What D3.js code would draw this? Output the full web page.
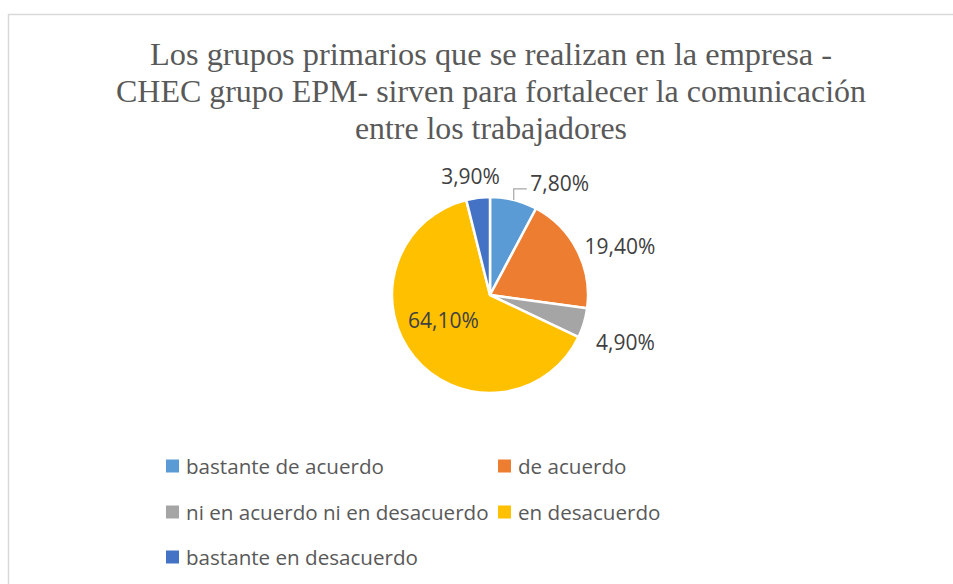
<!DOCTYPE html>
<html><head><meta charset="utf-8">
<script src="https://cdn.jsdelivr.net/npm/d3@7"></script>
<style>html,body{margin:0;padding:0;background:#fff;}</style>
</head><body>
<svg id="c" width="953" height="584"></svg>
<script>
const titleLines = ["Los grupos primarios que se realizan en la empresa -",
  "CHEC grupo EPM- sirven para fortalecer la comunicación",
  "entre los trabajadores"];
const categories = ["bastante de acuerdo","de acuerdo","ni en acuerdo ni en desacuerdo","en desacuerdo","bastante en desacuerdo"];
const values = [7.8, 19.4, 4.9, 64.1, 3.9];
const valueLabels = ["7,80%","19,40%","4,90%","64,10%","3,90%"];
const colors = ["#5B9BD5","#ED7D31","#A5A5A5","#FFC000","#4472C4"];

// style / layout
const labelNudge = [[43,-5],[32,1],[30,16],[-1,-12],[-6,-10]];
const labelInside = [false,false,false,true,false];
const titleWidths = [682, 750, 272];

const svg = d3.select("#c");
svg.append("rect").attr("x",8.5).attr("y",14.5).attr("width",1000).attr("height",700)
  .attr("fill","#fff").attr("stroke","#d9d9d9").attr("stroke-width",1.5);

// Title
titleLines.forEach((t,i)=>{
  svg.append("text").attr("x",491).attr("y",65+i*37).attr("text-anchor","middle")
    .attr("font-family","'Liberation Serif','Times New Roman',serif").attr("font-size",32)
    .attr("fill","#595959").attr("textLength",titleWidths[i]).attr("lengthAdjust","spacingAndGlyphs")
    .text(t);
});

const cx=490, cy=295, R=98;
const pie = d3.pie().sort(null).value(d=>d)(values);
const arc = d3.arc().innerRadius(0).outerRadius(R);
const g = svg.append("g").attr("transform",`translate(${cx},${cy})`);
g.selectAll("path").data(pie).join("path").attr("d",arc)
  .attr("fill",(d,i)=>colors[i]).attr("stroke","#fff").attr("stroke-width",2.5).attr("stroke-linejoin","round");

const outArc = d3.arc().innerRadius(R+12).outerRadius(R+12);
const inArc = d3.arc().innerRadius(R*0.6).outerRadius(R*0.6);
pie.forEach((d,i)=>{
  const c = (labelInside[i]?inArc:outArc).centroid(d);
  g.append("text").attr("x",c[0]+labelNudge[i][0]).attr("y",c[1]+labelNudge[i][1])
    .attr("text-anchor","middle").attr("dominant-baseline","central")
    .attr("font-family","'Open Sans',sans-serif").attr("font-size",21).attr("fill","#404040")
    .text(valueLabels[i]);
});
// leader line for first slice
{
  const d = pie[0];
  const m = (d.startAngle+d.endAngle)/2;
  const x0 = R*Math.sin(m), y0 = -R*Math.cos(m);
  const yl = y0-11;
  g.append("path").attr("d",`M${x0},${y0}V${yl}H${x0+13}`)
    .attr("fill","none").attr("stroke","#a6a6a6").attr("stroke-width",1.2);
}

// Legend
const legX = [166, 498], legY = [466, 512, 557];
categories.forEach((c,i)=>{
  const col=i%2, row=Math.floor(i/2);
  const lg = svg.append("g").attr("transform",`translate(${legX[col]},${legY[row]})`);
  lg.append("rect").attr("x",0).attr("y",-6.5).attr("width",13).attr("height",13).attr("fill",colors[i]);
  lg.append("text").attr("x",20).attr("y",0).attr("dominant-baseline","central")
    .attr("font-family","'Open Sans',sans-serif").attr("font-size",20.6).attr("fill","#595959").text(c);
});
</script>
</body></html>
